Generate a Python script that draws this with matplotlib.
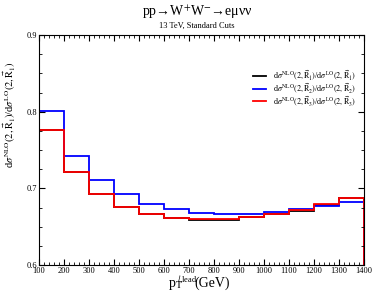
import numpy as np
import matplotlib
matplotlib.use('Agg')
import matplotlib.pyplot as plt
from matplotlib.ticker import MultipleLocator

plt.rcParams['font.family'] = 'Liberation Serif'
plt.rcParams['mathtext.fontset'] = 'stix'

# bin edges (GeV); first bin lies below the plotted range
edges = [0, 100, 200, 300, 400, 500, 600, 700, 800, 900, 1000, 1100, 1200, 1300, 1400]
r1 = [0.95, 0.776, 0.721, 0.693, 0.676, 0.666, 0.661, 0.659, 0.659, 0.662, 0.667, 0.671, 0.678, 0.687]
r2 = [0.95, 0.801, 0.742, 0.711, 0.693, 0.680, 0.673, 0.668, 0.666, 0.667, 0.669, 0.673, 0.677, 0.682]
r3 = [0.95, 0.776, 0.721, 0.693, 0.676, 0.667, 0.661, 0.660, 0.660, 0.662, 0.667, 0.672, 0.679, 0.688]

labels = [r'd$\sigma^{\rm NLO}(2,\vec{\rm R}_1)$/d$\sigma^{\rm LO}(2,\vec{\rm R}_1)$',
          r'd$\sigma^{\rm NLO}(2,\vec{\rm R}_2)$/d$\sigma^{\rm LO}(2,\vec{\rm R}_2)$',
          r'd$\sigma^{\rm NLO}(2,\vec{\rm R}_3)$/d$\sigma^{\rm LO}(2,\vec{\rm R}_3)$']
colors = ['black', 'blue', 'red']

fig = plt.figure(figsize=(3.74, 2.93), dpi=100)
ax = fig.add_axes([39/374, 1 - 265/293, 325/374, 230/293])

for vals, c, lab in zip([r1, r2, r3], colors, labels):
    ax.stairs(vals, edges, color=c, lw=1.3, label=lab)

ax.set_xlim(100, 1400)
ax.set_ylim(0.6, 0.9)
ax.xaxis.set_major_locator(MultipleLocator(100))
ax.xaxis.set_minor_locator(MultipleLocator(20))
ax.yaxis.set_major_locator(MultipleLocator(0.1))
ax.yaxis.set_minor_locator(MultipleLocator(0.025))
ax.tick_params(which='both', direction='in', top=True, right=True, labelsize=6, pad=1.5)
ax.tick_params(which='major', length=4)
ax.tick_params(which='minor', length=2)
for s in ax.spines.values():
    s.set_linewidth(0.8)

# x label built from pieces so the superscript stays clear of the tick labels
fig.text(168/374, 1 - 287/293, r'p$_{\rm T}$', ha='left', va='baseline', fontsize=10)
fig.text(177/374, 1 - 282/293, r'$l$,lead', ha='left', va='baseline', fontsize=6)
fig.text(194/374, 1 - 287/293, '(GeV)', ha='left', va='baseline', fontsize=10)

ax.set_ylabel(r'd$\sigma^{\rm NLO}(2,\vec{\rm R}_1)$/d$\sigma^{\rm LO}(2,\vec{\rm R}_1)$', fontsize=7.5)
ax.yaxis.set_label_coords(-0.065, (265 - 114) / 230)

fig.text(197/374, 1 - 12/293, r'pp→W$^{+}$W$^{-}$→eμνν', ha='center', va='center', fontsize=10)
fig.text(197/374, 1 - 26/293, '13 TeV, Standard Cuts', ha='center', va='center', fontsize=6)

ax.legend(loc='upper right', bbox_to_anchor=(0.975, 0.855), fontsize=5.8, frameon=False,
          borderpad=0, borderaxespad=0, handlelength=1.6, handletextpad=0.8, labelspacing=-0.15)

fig.savefig('out.png', dpi=100)
